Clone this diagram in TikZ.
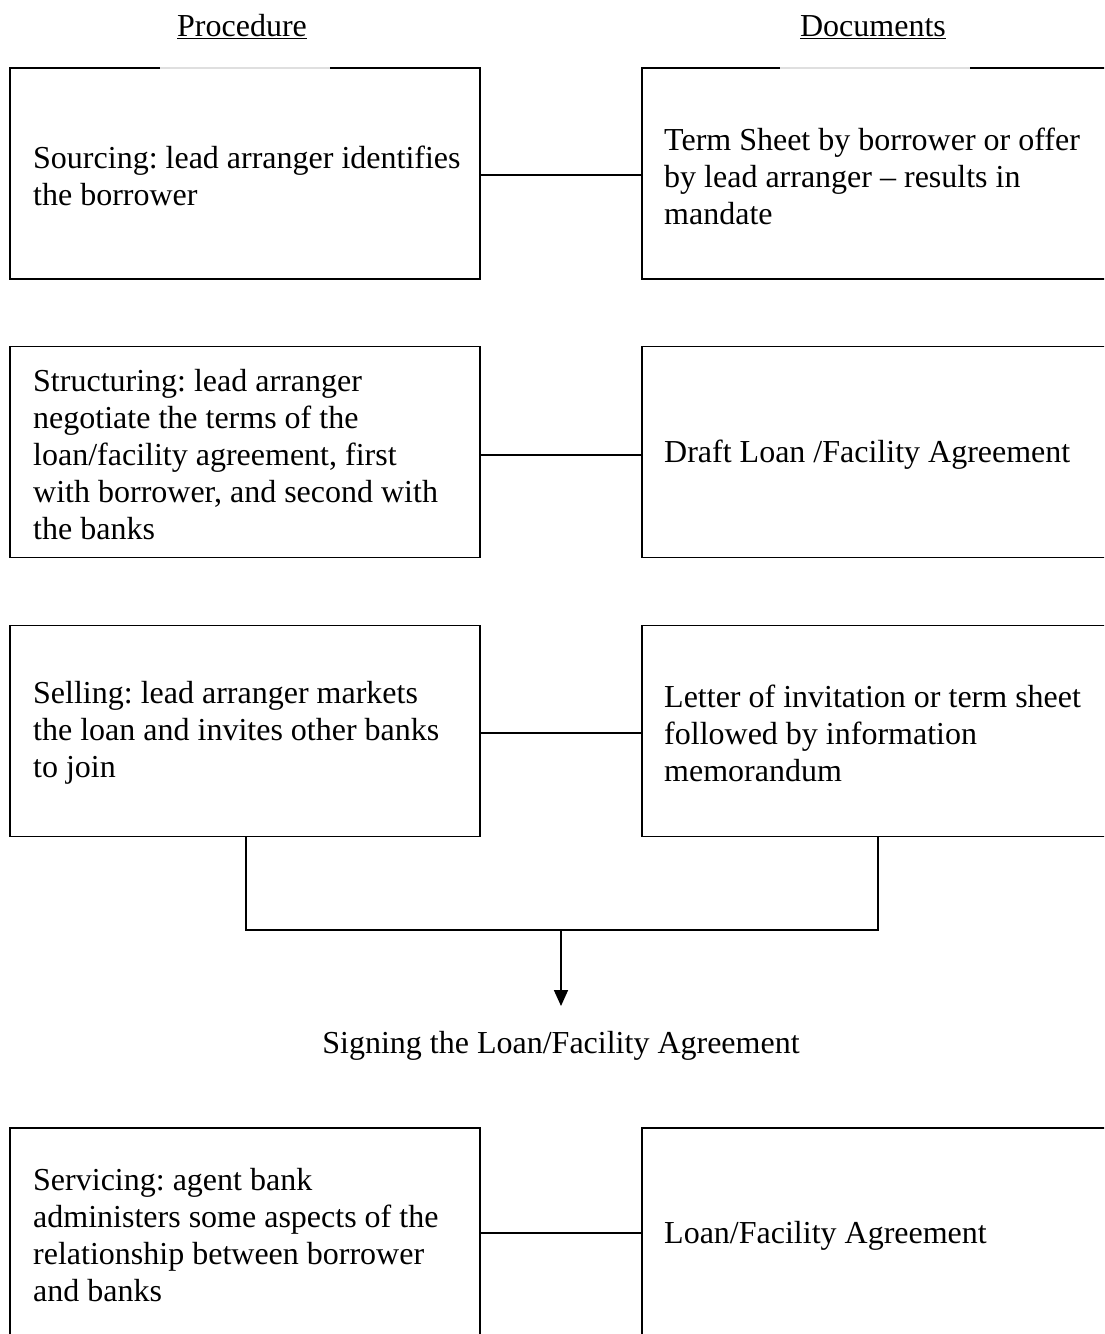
\documentclass[tikz,border=0pt]{standalone}
\usepackage{fontspec}
\setmainfont{Liberation Serif}
\usetikzlibrary{arrows.meta}
\frenchspacing
\begin{document}
\begin{tikzpicture}[x=1pt,y=-1pt,
  box/.style={draw,line width=1.7pt,inner sep=0pt,minimum width=470pt,minimum height=211pt},
  dbox/.style={box,minimum width=490pt},
  txt/.style={font=\fontsize{32}{37}\selectfont,align=left,anchor=west,inner sep=0pt},
  head/.style={font=\fontsize{32}{37}\selectfont,inner sep=0pt},
  link/.style={line width=1.7pt},
  gap/.style={draw=gray!25,line width=1.8pt}]
\clip (0,0) rectangle (1104,1334);
\fill[white] (0,0) rectangle (1104,1334);
% headers
\node[head] (hp) at (242,27) {\underline{Procedure}};
\node[head] (hd) at (873,27) {\underline{Documents}};
% boxes
\node[box] (p1) at (245,173.5) {};
\node[dbox] (d1) at (887,173.5) {};
\node[box] (p2) at (245,452) {};
\node[dbox] (d2) at (887,452) {};
\node[box] (p3) at (245,731) {};
\node[dbox] (d3) at (887,731) {};
\node[box,minimum height=240pt] (p5) at (245,1248) {};
\node[dbox,minimum height=240pt] (d5) at (887,1248) {};
% gaps in the top borders
\draw[gap] (160,68) -- (330,68);
\draw[gap] (780,68) -- (970,68);
% texts
\node[txt] (t1) at (33,176) {Sourcing: lead arranger identifies\\the borrower};
\node[txt] (u1) at (664,176) {Term Sheet by borrower or offer\\by lead arranger -- results in\\mandate};
\node[txt] (t2) at (33,455) {Structuring: lead arranger\\negotiate the terms of the\\loan/facility agreement, first\\with borrower, and second with\\the banks};
\node[txt] (u2) at (664,455) {Draft Loan /Facility Agreement};
\node[txt] (t3) at (33,733) {Selling: lead arranger markets\\the loan and invites other banks\\to join};
\node[txt] (u3) at (664,733) {Letter of invitation or term sheet\\followed by information\\memorandum};
\node[txt] (t5) at (33,1235) {Servicing: agent bank\\administers some aspects of the\\relationship between borrower\\and banks};
\node[txt] (u5) at (664,1236) {Loan/Facility Agreement};
\node[head] (sign) at (561,1046) {Signing the Loan/Facility Agreement};
% connectors
\draw[link] (p1.east |- 0,175) -- (d1.west |- 0,175);
\draw[link] (p2.east |- 0,455) -- (d2.west |- 0,455);
\draw[link] (p3.east |- 0,733) -- (d3.west |- 0,733);
\draw[link] (p5.east |- 0,1233) -- (d5.west |- 0,1233);
% bracket and arrow
\coordinate (jl) at (246,930);
\coordinate (jr) at (878,930);
\coordinate (jm) at (561,930);
\coordinate (ae) at (561,1006);
\draw[link] (p3.south -| jl) -- (jl) -- (jr) -- (d3.south -| jr);
\draw[link,-{Triangle[length=16pt,width=14pt]}] (jm) -- (ae);
\end{tikzpicture}
\end{document}
